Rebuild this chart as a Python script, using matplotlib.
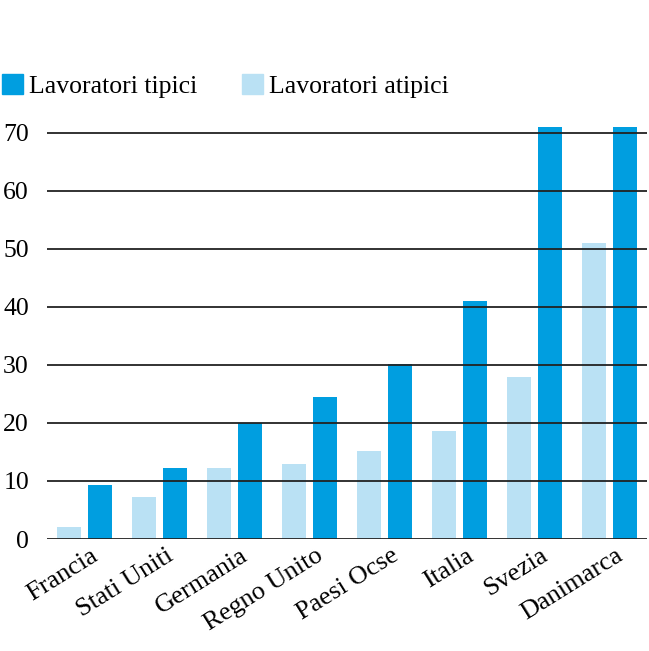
import matplotlib.pyplot as plt
import numpy as np
from matplotlib.patches import Patch

# data
paesi = ["Francia", "Stati Uniti", "Germania", "Regno Unito", "Paesi Ocse", "Italia", "Svezia", "Danimarca"]
atipici = [2.0, 7.2, 12.2, 13.0, 15.2, 18.7, 28.0, 51.0]
tipici = [9.3, 12.2, 20.0, 24.4, 30.2, 41.0, 71.0, 71.0]
yticks = [0, 10, 20, 30, 40, 50, 60, 70]

col_tipici = "#009ee0"
col_atipici = "#bae1f4"

plt.rcParams["font.family"] = ["Liberation Serif", "DejaVu Serif"]

fig = plt.figure(figsize=(6.49, 6.51), dpi=100)
ax = fig.add_axes([47 / 649, 112 / 651, 600 / 649, 0.6415])

x = np.arange(len(paesi))
w = 0.32
ax.bar(x - 0.205, atipici, width=w, color=col_atipici, zorder=2)
ax.bar(x + 0.2, tipici, width=w, color=col_tipici, zorder=2)

ax.set_xlim(-0.5, 7.5)
ax.set_ylim(0, 72)
ax.set_yticks(yticks)
ax.yaxis.grid(True, color="#222222", lw=1.3, zorder=3)
ax.set_axisbelow(False)
for s in ax.spines.values():
    s.set_visible(False)
ax.tick_params(axis="y", length=0, pad=13, labelsize=18.5)
ax.tick_params(axis="x", length=0, pad=4, labelsize=19)
ax.set_xticks(x + 0.08)
ax.set_xticklabels(paesi, rotation=32, ha="right", rotation_mode="anchor")

handles = [Patch(color=col_tipici), Patch(color=col_atipici)]
fig.legend(handles, ["Lavoratori tipici", "Lavoratori atipici"], loc="lower left",
           bbox_to_anchor=(0.003, 0.85), ncol=2, frameon=False, fontsize=18.5,
           handlelength=0.8, handleheight=0.8, handletextpad=0.25, columnspacing=1.75,
           borderpad=0, borderaxespad=0)

fig.savefig("out.png", dpi=100)
